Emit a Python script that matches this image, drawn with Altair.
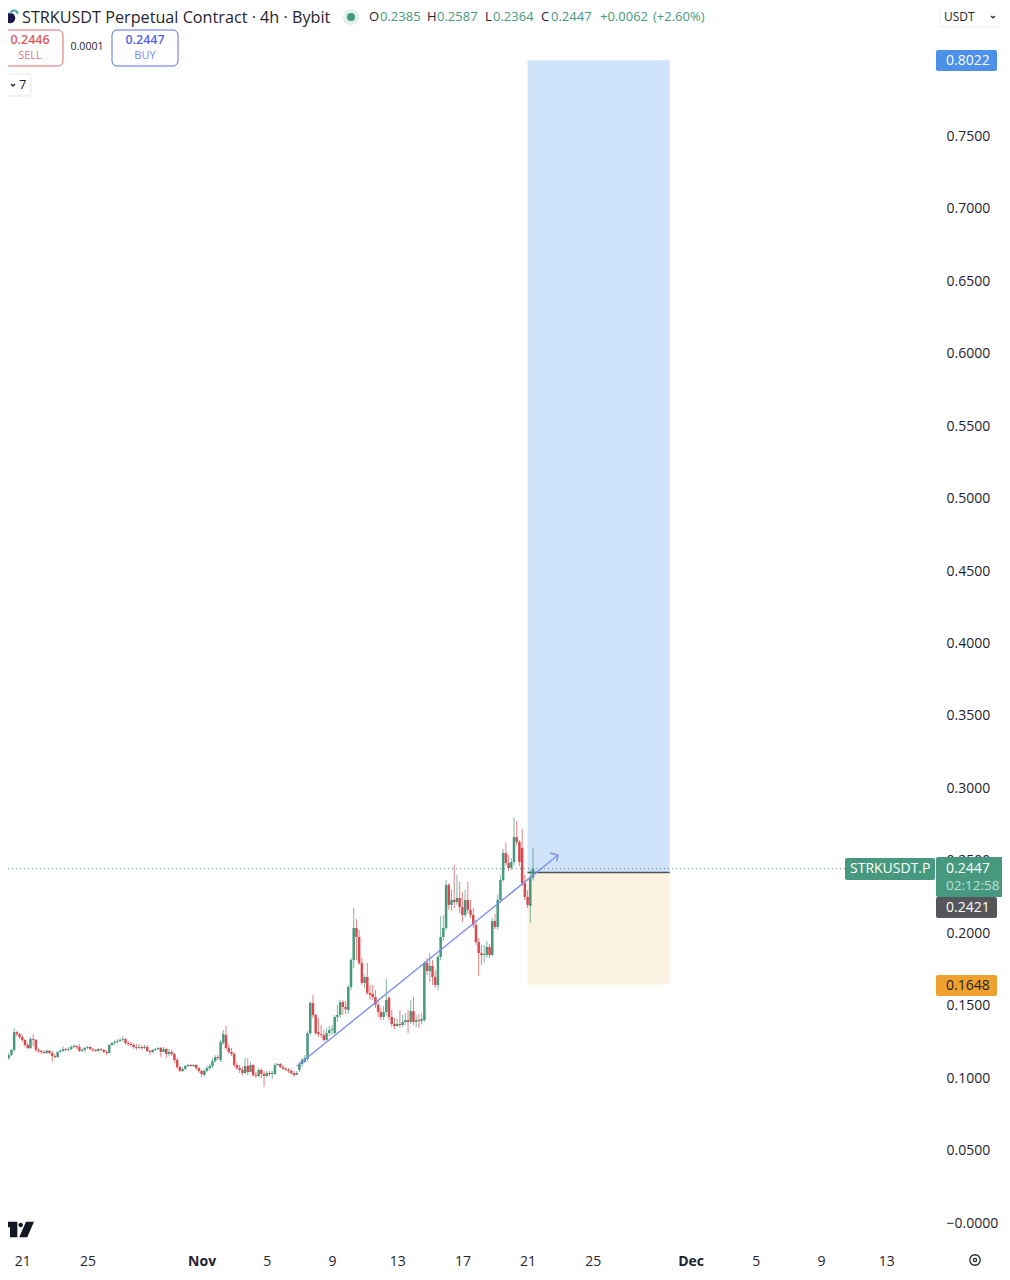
import altair as alt
import pandas as pd

FONT = "Open Sans"
UP = "#46997f"
DOWN = "#d94a4e"
TEXT = "#1f2430"

opens = [
 .1141,.1162,.1197,.1320,.1306,.1286,.1266,.1231,.1210,.1272,
 .1266,.1197,.1190,.1183,.1176,.1190,.1176,.1155,.1148,.1183,
 .1190,.1203,.1197,.1203,.1217,.1224,.1217,.1190,.1197,.1210,
 .1217,.1203,.1197,.1190,.1203,.1197,.1183,.1176,.1231,.1245,
 .1252,.1259,.1266,.1272,.1245,.1238,.1231,.1217,.1210,.1217,
 .1210,.1217,.1190,.1183,.1197,.1203,.1210,.1183,.1203,.1169,
 .1183,.1169,.1128,.1079,.1052,.1066,.1086,.1093,.1086,.1093,
 .1072,.1052,.1024,.1052,.1072,.1086,.1121,.1148,.1128,.1245,
 .1300,.1210,.1183,.1169,.1093,.1072,.1059,.1038,.1086,.1045,
 .1093,.1024,.1017,.1059,.1031,.1017,.1038,.1031,.1031,.1093,
 .1100,.1079,.1066,.1059,.1052,.1038,.1024,.1059,.1100,.1114,
 .1134,.1313,.1521,.1438,.1320,.1306,.1300,.1266,.1313,.1334,
 .1313,.1424,.1438,.1527,.1493,.1472,.1631,.1817,.2038,.1976,
 .1797,.1659,.1700,.1590,.1583,.1562,.1507,.1459,.1424,.1459,
 .1555,.1424,.1376,.1362,.1376,.1369,.1390,.1403,.1390,.1465,
 .1390,.1403,.1396,.1403,.1797,.1741,.1776,.1700,.1645,.1838,
 .1976,.2038,.2335,.2197,.2231,.2217,.2245,.2183,.2128,.2231,
 .2162,.2128,.2059,.1941,.1865,.1852,.1852,.1907,.1852,.2086,
 .2045,.2231,.2369,.2555,.2486,.2452,.2493,.2666,.2631,.2590,
 .2348,.2252,.2190,.2385,
]
highs = [
 .1176,.1203,.1348,.1327,.1313,.1300,.1272,.1245,.1286,.1306,
 .1272,.1210,.1197,.1197,.1203,.1197,.1190,.1169,.1190,.1203,
 .1224,.1210,.1217,.1231,.1238,.1231,.1238,.1210,.1217,.1224,
 .1224,.1210,.1203,.1210,.1210,.1203,.1197,.1238,.1252,.1266,
 .1272,.1279,.1293,.1279,.1259,.1252,.1245,.1238,.1238,.1231,
 .1231,.1231,.1197,.1203,.1210,.1217,.1217,.1217,.1210,.1203,
 .1197,.1176,.1141,.1086,.1079,.1093,.1100,.1100,.1100,.1100,
 .1079,.1059,.1066,.1086,.1100,.1141,.1162,.1162,.1266,.1334,
 .1362,.1238,.1210,.1183,.1107,.1093,.1079,.1141,.1141,.1114,
 .1100,.1045,.1072,.1072,.1052,.1052,.1052,.1052,.1107,.1107,
 .1107,.1093,.1079,.1072,.1066,.1052,.1052,.1114,.1141,.1162,
 .1327,.1534,.1576,.1445,.1417,.1369,.1334,.1348,.1362,.1369,
 .1438,.1507,.1541,.1541,.1534,.1645,.1831,.2176,.2100,.2024,
 .1831,.1714,.1797,.1645,.1645,.1610,.1541,.1486,.1500,.1686,
 .1569,.1472,.1417,.1410,.1472,.1438,.1452,.1472,.1541,.1562,
 .1438,.1445,.1452,.1810,.1831,.1865,.1817,.1748,.1852,.2121,
 .2128,.2369,.2348,.2300,.2472,.2403,.2355,.2286,.2300,.2355,
 .2231,.2176,.2093,.1969,.1921,.1921,.1948,.1928,.2107,.2135,
 .2266,.2403,.2583,.2624,.2541,.2521,.2797,.2776,.2645,.2721,
 .2403,.2300,.2438,.2587,
]
lows = [
 .1128,.1155,.1183,.1293,.1272,.1252,.1217,.1203,.1203,.1224,
 .1183,.1176,.1169,.1169,.1169,.1169,.1114,.1141,.1141,.1176,
 .1183,.1190,.1190,.1197,.1210,.1203,.1183,.1183,.1183,.1203,
 .1197,.1183,.1183,.1183,.1190,.1176,.1162,.1169,.1224,.1231,
 .1245,.1252,.1259,.1231,.1224,.1217,.1203,.1197,.1203,.1197,
 .1203,.1183,.1162,.1176,.1190,.1197,.1148,.1190,.1141,.1155,
 .1155,.1107,.1066,.1045,.1045,.1059,.1079,.1079,.1079,.1059,
 .1038,.1010,.1017,.1045,.1059,.1072,.1107,.1128,.1114,.1231,
 .1197,.1169,.1155,.1079,.1059,.1038,.1024,.1031,.1024,.1045,
 .1010,.1003,.1010,.1003,.0941,.1010,.1017,.0997,.1024,.1086,
 .1072,.1059,.1052,.1038,.1024,.1010,.1024,.1045,.1079,.1107,
 .1121,.1300,.1417,.1300,.1286,.1279,.1252,.1259,.1293,.1300,
 .1306,.1390,.1417,.1438,.1445,.1445,.1610,.1762,.1817,.1783,
 .1645,.1624,.1576,.1541,.1541,.1486,.1424,.1403,.1403,.1438,
 .1403,.1355,.1341,.1355,.1348,.1355,.1369,.1313,.1376,.1369,
 .1355,.1348,.1376,.1390,.1714,.1665,.1645,.1624,.1610,.1817,
 .1948,.2024,.2162,.2155,.2176,.2197,.2141,.2079,.2114,.2141,
 .2107,.2038,.1921,.1707,.1783,.1797,.1831,.1831,.1845,.2031,
 .2024,.2210,.2355,.2466,.2431,.2438,.2472,.2610,.2466,.2328,
 .2231,.2176,.2072,.2364,
]
closes = [
 .1162,.1197,.1320,.1306,.1286,.1266,.1231,.1210,.1272,.1266,
 .1197,.1190,.1183,.1176,.1190,.1176,.1155,.1148,.1183,.1190,
 .1203,.1197,.1203,.1217,.1224,.1217,.1190,.1197,.1210,.1217,
 .1203,.1197,.1190,.1203,.1197,.1183,.1176,.1231,.1245,.1252,
 .1259,.1266,.1272,.1245,.1238,.1231,.1217,.1210,.1217,.1210,
 .1217,.1190,.1183,.1197,.1203,.1210,.1183,.1203,.1169,.1183,
 .1169,.1128,.1079,.1052,.1066,.1086,.1093,.1086,.1093,.1072,
 .1052,.1031,.1052,.1072,.1086,.1121,.1148,.1141,.1252,.1306,
 .1210,.1183,.1169,.1093,.1072,.1059,.1038,.1086,.1045,.1093,
 .1024,.1017,.1059,.1031,.1017,.1038,.1031,.1038,.1093,.1100,
 .1079,.1066,.1059,.1052,.1038,.1024,.1038,.1100,.1128,.1141,
 .1313,.1521,.1438,.1313,.1306,.1300,.1266,.1313,.1334,.1341,
 .1424,.1438,.1527,.1493,.1479,.1631,.1817,.2038,.1976,.1797,
 .1659,.1700,.1590,.1576,.1562,.1507,.1459,.1424,.1459,.1541,
 .1424,.1376,.1362,.1376,.1369,.1390,.1403,.1390,.1465,.1390,
 .1403,.1396,.1410,.1797,.1741,.1776,.1700,.1645,.1838,.1976,
 .2038,.2335,.2197,.2231,.2217,.2245,.2183,.2128,.2231,.2162,
 .2128,.2059,.1941,.1865,.1852,.1859,.1907,.1852,.2086,.2045,
 .2231,.2369,.2555,.2486,.2452,.2493,.2666,.2631,.2493,.2348,
 .2252,.2197,.2390,.2447,
]

x_domain = ["2024-10-20T02:57:00Z", "2024-12-16T04:19:00Z"]
y_domain = [-0.01966, 0.83828]
price_ticks = [0, .05, .10, .15, .20, .25, .30, .35, .40, .45, .50, .55, .60, .65, .70, .75]
date_ticks = ["2024-10-21", "2024-10-25", "2024-11-01", "2024-11-05", "2024-11-09", "2024-11-13",
              "2024-11-17", "2024-11-21", "2024-11-25", "2024-12-01", "2024-12-05", "2024-12-09", "2024-12-13"]

pos_start, pos_end = "2024-11-21T00:00:00Z", "2024-11-29T17:16:00Z"
target_price, entry_price, stop_price = 0.8022, 0.2421, 0.1648
last_price = 0.2447

trend_t = ["2024-11-06T20:24:00Z", "2024-11-22T20:53:00Z"]
trend_p = [0.1086, 0.2541]
head_t = ["2024-11-22T08:53:00Z", "2024-11-22T20:53:00Z", "2024-11-22T18:53:00Z"]
head_p = [0.2555, 0.2541, 0.2495]

times = pd.date_range("2024-10-20 04:00", periods=len(closes), freq="4h").strftime("%Y-%m-%dT%H:%M:00Z")
candles = pd.DataFrame({"t": times, "open": opens, "high": highs, "low": lows, "close": closes})

MONTHS = {"10": "oct", "11": "nov", "12": "dec"}
X = alt.X("t:T", title=None, scale=alt.Scale(type="utc", domain=x_domain),
          axis=alt.Axis(values=[alt.DateTime(year=int(d[:4]), month=MONTHS[d[5:7]], date=int(d[8:]), utc=True) for d in date_ticks],
                        labelExpr="utcdate(datum.value)==1 ? utcFormat(datum.value,'%b') : utcFormat(datum.value,'%-d')",
                        labelFontWeight=alt.ExprRef(expr="utcdate(datum.value)==1 ? 'bold' : 'normal'"),
                        domain=False, ticks=False, grid=False, labelFont=FONT, labelFontSize=14,
                        labelColor=TEXT, labelPadding=2, labelFlush=False, labelOverlap=False))
Y = alt.Y("low:Q", title=None, scale=alt.Scale(domain=y_domain, nice=False, zero=False),
          axis=alt.Axis(orient="right", values=price_ticks,
                        labelExpr="datum.value==0 ? '\u22120.0000' : format(datum.value,'.4f')",
                        domain=False, ticks=False, grid=False, labelFont=FONT, labelFontSize=14,
                        labelColor=TEXT, labelPadding=8, labelOverlap=False))
color = alt.condition("datum.close >= datum.open", alt.value(UP), alt.value(DOWN))

base = alt.Chart(candles)
wicks = base.mark_rule(strokeWidth=1, opacity=0.7).encode(x=X, y=Y, y2="high:Q", color=color)
bodies = base.mark_rule(strokeWidth=2.5).encode(x="t:T", y="open:Q", y2="close:Q", color=color)

one = alt.Data(values=[{"a": 1}])
px = lambda v: alt.value(v - 8)


def box(x0, y0, x1, y1, fill="#ffffff", stroke=None, radius=0, sw=1):
    kw = {"fill": fill, "cornerRadius": radius}
    if stroke:
        kw.update(stroke=stroke, strokeWidth=sw)
    return alt.Chart(one).mark_rect(**kw).encode(x=px(x0), x2=px(x1), y=px(y0), y2=px(y1))


def label(x, y, s, size=14, color=TEXT, align="left", weight="normal"):
    return alt.Chart(one).mark_text(text=s, font=FONT, fontSize=size, color=color, align=align,
                                    baseline="middle", fontWeight=weight).encode(x=px(x), y=px(y))


def glyph(x, y, shape, size, fill=None, stroke=None, sw=1.3):
    kw = {"shape": shape, "size": size, "opacity": 1}
    if fill:
        kw.update(fill=fill, filled=True, strokeWidth=0)
    else:
        kw.update(filled=False, stroke=stroke, strokeWidth=sw)
    return alt.Chart(one).mark_point(**kw).encode(x=px(x), y=px(y))


def price_rect(t0, t1, p0, p1, fill):
    df = pd.DataFrame({"t0": [t0], "t1": [t1], "p0": [p0], "p1": [p1]})
    return alt.Chart(df).mark_rect(fill=fill).encode(x="t0:T", x2="t1:T", y="p0:Q", y2="p1:Q")


reward = price_rect(pos_start, pos_end, target_price, entry_price, "#cfe3fb")
risk = price_rect(pos_start, pos_end, entry_price, stop_price, "#fbf2e1")
entry_line = alt.Chart(pd.DataFrame({"t0": [pos_start], "t1": [pos_end], "p": [entry_price]})).mark_rule(
    color="#4a4f5a", strokeWidth=1.4).encode(x="t0:T", x2="t1:T", y="p:Q")
last_line = alt.Chart(pd.DataFrame({"p": [last_price]})).mark_rule(
    color="#5f8f84", strokeWidth=1, strokeDash=[1, 3]).encode(x=px(0), x2=px(845), y="p:Q")
trend = alt.Chart(pd.DataFrame({"t": trend_t, "p": trend_p})).mark_line(
    color="#7f8ff0", strokeWidth=1.4).encode(x="t:T", y="p:Q")
head = alt.Chart(pd.DataFrame({"t": head_t, "p": head_p, "o": [0, 1, 2]})).mark_line(
    color="#7f8ff0", strokeWidth=1.4).encode(x="t:T", y="p:Q", order="o:Q")

TV_LOGO = ("M-.98,-.49H-.06V.49H-.52V-.14H-.98Z M.01,-.28a.14,.14 0 1,0 .28,0a.14,.14 0 1,0 -.28,0Z "
           "M.48,-.49H.98L.56,.49H.06Z")
CHEVRON = "M-1,-.5L0,.5L1,-.5"

layers = [
    reward, risk, last_line, entry_line, wicks, bodies, trend, head,
    # header
    glyph(10, 18, "circle", 110, fill="#1c1650"),
    glyph(14, 13, "M-1,.3A1,1 0 0,1 1,.3", 50, stroke="#49a6a6", sw=2),
    label(22, 18, "STRKUSDT Perpetual Contract \u00b7 4h \u00b7 Bybit", size=16.2),
    glyph(351, 17, "circle", 260, fill="#e2f1ec"),
    glyph(351, 17, "circle", 65, fill=UP),
    label(369, 17, "O", 13), label(380, 17, "0.2385", 13, UP),
    label(427, 17, "H", 13), label(437, 17, "0.2587", 13, UP),
    label(485, 17, "L", 13), label(493, 17, "0.2364", 13, UP),
    label(541, 17, "C", 13), label(551, 17, "0.2447", 13, UP),
    label(600, 17, "+0.0062", 13, UP), label(653, 17, "(+2.60%)", 13, UP),
    box(940, -4, 1012, 27, stroke="#eceef2"),
    label(944, 17, "USDT", 12), glyph(993, 17, CHEVRON, 14, stroke=TEXT),
    # order buttons
    box(-2, 30, 63, 66, stroke="#e2686c", radius=5),
    label(30, 40, "0.2446", 12.5, "#dc5a5e", "center", 600), label(30, 56, "SELL", 11, "#e0787b", "center"),
    label(87, 47, "0.0001", 10.5, TEXT, "center"),
    box(112, 30, 178, 66, stroke="#5a6ee6", radius=5),
    label(145, 40, "0.2447", 12.5, "#5368e6", "center", 600), label(145, 56, "BUY", 11, "#7a8bec", "center"),
    box(-2, 74, 31, 96, stroke="#e4e6ec", radius=3),
    glyph(13, 85, CHEVRON, 16, stroke=TEXT), label(19, 85, "7", 13),
    # price badges
    box(936, 50, 997, 71, fill="#4c90ea", radius=2), label(946, 60.5, "0.8022", 14, "#ffffff"),
    box(845, 858, 935, 880, fill=UP, radius=2), label(850, 869, "STRKUSDT.P", 14, "#ffffff"),
    box(936, 857, 1012, 897, fill=UP, radius=2), label(946, 869, "0.2447", 14, "#ffffff"),
    label(946, 886, "02:12:58", 13.5, "#bfe0d6"),
    box(936, 897, 997, 918, fill="#55565a", radius=2), label(946, 907.5, "0.2421", 14, "#ffffff"),
    box(936, 975, 997, 996, fill="#f0a02e", radius=2), label(946, 985.5, "0.1648", 14, "#20222a"),
    # logo and settings
    glyph(18.3, 1229.5, TV_LOGO, 1024, fill="#131722"),
    glyph(975, 1260, "circle", 110, stroke=TEXT),
    glyph(975, 1260, "circle", 10, stroke=TEXT),
]

chart = alt.layer(*layers).properties(
    width=930, height=1244,
    padding={"left": 0, "top": 0, "right": 64, "bottom": 16},
    autosize=alt.AutoSizeParams(type="none"),
    background="#ffffff",
).configure_view(stroke=None)

chart.save("out.html", embed_options={"renderer": "svg", "actions": False})
